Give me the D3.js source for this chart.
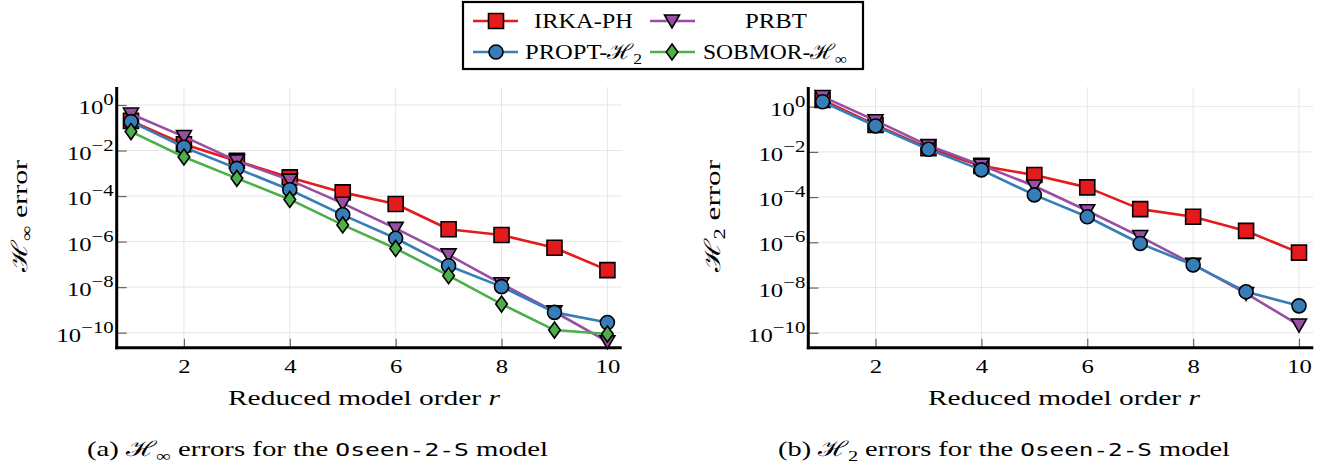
<!DOCTYPE html>
<html><head><meta charset="utf-8">
<script src="https://cdn.jsdelivr.net/npm/d3@7"></script>
<style>body{margin:0;background:#fff} svg{display:block}</style>
</head><body><svg id="c" width="1336" height="473"></svg>
<script>
// ---------- data ----------
const orders = [1, 2, 3, 4, 5, 6, 7, 8, 9, 10];
const xTicks = [2, 4, 6, 8, 10];
const yTickExps = [0, -2, -4, -6, -8, -10];
const legendBase = ["IRKA-PH", "PRBT", "PROPT-ℋ", "SOBMOR-ℋ"];
const legendSub = ["", "", "2", "∞"];

// H-infinity errors (panel a)
const hinfIRKA   = [2.0e-1, 1.9e-2, 3.5e-3, 6.6e-4, 1.45e-4, 4.5e-5, 3.5e-6, 1.95e-6, 5.4e-7, 5.6e-8];
const hinfPRBT   = [4.0e-1, 4.1e-2, 3.5e-3, 5.0e-4, 4.8e-5, 3.8e-6, 2.6e-7, 1.4e-8, 8.3e-10, 4.0e-11];
const hinfPROPT  = [1.85e-1, 1.4e-2, 1.65e-3, 1.9e-4, 1.5e-5, 1.4e-6, 8.7e-8, 1.05e-8, 7.8e-10, 2.8e-10];
const hinfSOBMOR = [6.8e-2, 5.2e-3, 6.0e-4, 7.1e-5, 5.4e-6, 5.0e-7, 3.2e-8, 1.8e-9, 1.3e-10, 8.7e-11];

// H2 errors (panel b)
const h2IRKA  = [2.0, 1.55e-1, 1.45e-2, 2.4e-3, 9.5e-4, 2.7e-4, 2.95e-5, 1.35e-5, 3.2e-6, 3.5e-7];
const h2PRBT  = [2.8, 2.4e-1, 1.9e-2, 2.6e-3, 3.1e-4, 2.5e-5, 1.8e-6, 1.07e-7, 5.5e-9, 2.2e-10];
const h2PROPT = [1.65, 1.4e-1, 1.3e-2, 1.6e-3, 1.25e-4, 1.35e-5, 8.9e-7, 1.0e-7, 6.5e-9, 1.55e-9];

// ---------- styles ----------
const colors = ["#e41a1c", "#984ea3", "#377eb8", "#4daf4a"];
const SERIF = "'Liberation Serif','DejaVu Serif',serif";
const STRETCH = 1.3;

// custom marker shapes
const mSquare = {draw(c){ const h=7.5; c.moveTo(-h,-h); c.lineTo(h,-h); c.lineTo(h,h); c.lineTo(-h,h); c.closePath(); }};
const mCircle = {draw(c){ c.moveTo(7,0); c.arc(0,0,7,0,2*Math.PI); }};
const mTriDown = {draw(c){ c.moveTo(-7.5,-6); c.lineTo(7.5,-6); c.lineTo(0,7); c.closePath(); }};
const mDiamond = {draw(c){ c.moveTo(0,-8); c.lineTo(5.8,0); c.lineTo(0,8); c.lineTo(-5.8,0); c.closePath(); }};
const markers = [mSquare, mTriDown, mCircle, mDiamond];

const svg = d3.select("#c");
svg.append("rect").attr("width", 1336).attr("height", 473).attr("fill", "#fff");

const panels = [
  {left:116.7, right:621.7, top:87, bottom:347.7, yMin:Math.pow(10,-10.66), yMax:Math.pow(10,0.79),
   series:[hinfIRKA, hinfPRBT, hinfPROPT, hinfSOBMOR], ylab:"∞", ylabX:27, xlabX:364, capX:317.5, capLen:461, capLetter:"(a) ", capSub:"∞"},
  {left:808.3, right:1313.3, top:87, bottom:347.7, yMin:Math.pow(10,-10.66), yMax:Math.pow(10,0.87),
   series:[h2IRKA, h2PRBT, h2PROPT], ylab:"2", ylabX:720, xlabX:1064, capX:1004, capLen:452, capLetter:"(b) ", capSub:"2"}
];

function drawPanel(p){
  const x = d3.scaleLinear().domain([0.73, 10.27]).range([p.left, p.right]);
  const y = d3.scaleLog().domain([p.yMin, p.yMax]).range([p.bottom, p.top]);
  const yTicks = yTickExps.map(e => Math.pow(10, e));
  const g = svg.append("g");

  // grid
  g.append("g").selectAll("line").data(xTicks).join("line")
    .attr("x1", d => x(d)).attr("x2", d => x(d)).attr("y1", p.top).attr("y2", p.bottom)
    .attr("stroke", "#e6e6e6").attr("stroke-width", 1);
  g.append("g").selectAll("line").data(yTicks).join("line")
    .attr("x1", p.left).attr("x2", p.right).attr("y1", d => y(d)).attr("y2", d => y(d))
    .attr("stroke", "#e6e6e6").attr("stroke-width", 1);

  // x axis ticks + labels
  const xa = g.append("g").attr("transform", `translate(0,${p.bottom})`)
    .call(d3.axisBottom(x).tickValues(xTicks).tickSize(-9).tickPadding(12).tickFormat(d3.format("d")));
  xa.select(".domain").remove();
  xa.attr("font-family", SERIF).attr("font-size", 19);
  xa.selectAll(".tick line").attr("stroke", "#666").attr("stroke-width", 1.2);
  xa.selectAll(".tick text").attr("fill", "#000").attr("transform", `scale(${STRETCH},1)`);

  // y axis ticks
  const ya = g.append("g").attr("transform", `translate(${p.left},0)`)
    .call(d3.axisLeft(y).tickValues(yTicks).tickSize(-10).tickFormat(""));
  ya.select(".domain").remove();
  ya.selectAll(".tick line").attr("stroke", "#666").attr("stroke-width", 1.2);

  // y tick labels with superscripts
  const yl = g.append("g").attr("font-family", SERIF).attr("fill", "#000");
  yTickExps.forEach(e => {
    const t = yl.append("text")
      .attr("transform", `translate(${p.left - 3},${y(Math.pow(10, e)) + 9}) scale(${STRETCH},1)`)
      .attr("text-anchor", "end").attr("font-size", 19);
    t.append("tspan").text("10");
    t.append("tspan").attr("dy", -9).attr("font-size", 16).text(e === 0 ? "0" : "−" + Math.abs(e));
  });

  // axis lines
  g.append("line").attr("x1", p.left).attr("x2", p.left).attr("y1", p.top).attr("y2", p.bottom + 1.5)
    .attr("stroke", "#000").attr("stroke-width", 3);
  g.append("line").attr("x1", p.left - 1.5).attr("x2", p.right).attr("y1", p.bottom).attr("y2", p.bottom)
    .attr("stroke", "#000").attr("stroke-width", 3);

  // series
  const line = d3.line().x(d => x(d.r)).y(d => y(d.v));
  p.series.forEach((vals, i) => {
    const pts = orders.map((r, k) => ({r, v: vals[k]}));
    g.append("path").datum(pts).attr("d", line).attr("fill", "none")
      .attr("stroke", colors[i]).attr("stroke-width", 2.6).attr("stroke-linejoin", "round");
    g.append("g").selectAll("path").data(pts).join("path")
      .attr("transform", d => `translate(${x(d.r)},${y(d.v)})`)
      .attr("d", d3.symbol().type(markers[i]))
      .attr("fill", colors[i]).attr("stroke", "#000").attr("stroke-width", 1.6);
  });

  // y label
  const ylab = g.append("text").attr("font-family", SERIF).attr("font-size", 22)
    .attr("transform", `translate(${p.ylabX},216) rotate(-90)`).attr("text-anchor", "middle")
    .attr("textLength", 112).attr("lengthAdjust", "spacingAndGlyphs");
  ylab.append("tspan").text("ℋ");
  ylab.append("tspan").attr("font-size", 16).attr("dy", 5).text(p.ylab);
  ylab.append("tspan").attr("dy", -5).text(" error");

  // x label
  const xl = g.append("text").attr("font-family", SERIF).attr("font-size", 21)
    .attr("x", p.xlabX).attr("y", 405).attr("text-anchor", "middle")
    .attr("textLength", 272).attr("lengthAdjust", "spacingAndGlyphs");
  xl.append("tspan").text("Reduced model order ");
  xl.append("tspan").attr("font-style", "italic").text("r");

  // caption
  const cap = g.append("text").attr("font-family", SERIF).attr("font-size", 21)
    .attr("x", p.capX).attr("y", 456).attr("text-anchor", "middle")
    .attr("textLength", p.capLen).attr("lengthAdjust", "spacingAndGlyphs");
  cap.append("tspan").text(p.capLetter + "ℋ");
  cap.append("tspan").attr("font-size", 15).attr("dy", 5).text(p.capSub);
  cap.append("tspan").attr("dy", -5).text(" errors for the ");
  cap.append("tspan").attr("font-family", "'DejaVu Sans Mono',monospace").attr("font-size", 18).text("Oseen-2-S");
  cap.append("tspan").text(" model");
}

panels.forEach(drawPanel);

// ---------- legend ----------
const lg = svg.append("g");
lg.append("rect").attr("x", 463).attr("y", 2).attr("width", 400).attr("height", 67)
  .attr("fill", "#fff").attr("stroke", "#000").attr("stroke-width", 2.2);
const legPos = [
  {lx:473, mx:496, tx:583.5, y:21, len:99},
  {lx:650, mx:672, tx:776, y:21, len:62},
  {lx:473, mx:496, tx:583.5, y:52, len:117},
  {lx:650, mx:672, tx:775, y:52, len:144}
];
legendBase.forEach((name, i) => {
  const q = legPos[i];
  lg.append("line").attr("x1", q.lx).attr("x2", q.lx + 45).attr("y1", q.y).attr("y2", q.y)
    .attr("stroke", colors[i]).attr("stroke-width", 2.6);
  lg.append("path").attr("transform", `translate(${q.mx},${q.y})`)
    .attr("d", d3.symbol().type(markers[i])).attr("fill", colors[i]).attr("stroke", "#000").attr("stroke-width", 1.6);
  const t = lg.append("text").attr("font-family", SERIF).attr("font-size", 21)
    .attr("x", q.tx).attr("y", q.y + 7).attr("text-anchor", "middle")
    .attr("textLength", q.len).attr("lengthAdjust", "spacingAndGlyphs");
  t.append("tspan").text(name);
  if (legendSub[i]) t.append("tspan").attr("font-size", 15).attr("dy", 5).text(legendSub[i]);
});
</script>
</body></html>
